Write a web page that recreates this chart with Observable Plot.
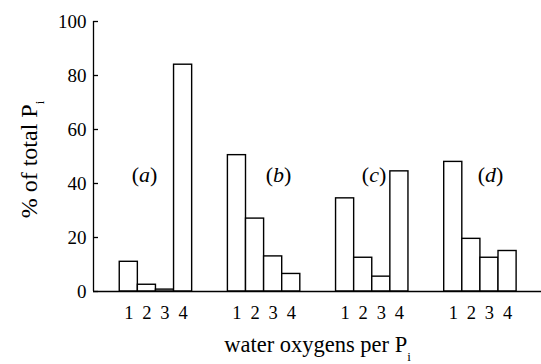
<!DOCTYPE html>
<html>
<head>
<meta charset="utf-8">
<script src="https://cdn.jsdelivr.net/npm/d3@7"></script>
<script src="https://cdn.jsdelivr.net/npm/@observablehq/plot@0.6"></script>
<style>
  html, body { margin: 0; padding: 0; background: #ffffff; }
  svg text { font-family: "Liberation Serif", "Times New Roman", serif; }
</style>
</head>
<body>
<div id="chart"></div>
<script>
// ---- data ----
const groups = ["a", "b", "c", "d"];
const waterOxygens = [1, 2, 3, 4];
const valuesA = [11, 2.5, 0.7, 84];
const valuesB = [50.5, 27, 13, 6.5];
const valuesC = [34.5, 12.5, 5.5, 44.5];
const valuesD = [48, 19.5, 12.5, 15];
const yTicks = [0, 20, 40, 60, 80, 100];
const xTitle = "water oxygens per P";
const yTitle = "% of total P";
const subscript = "i";

// ---- layout (in bar-width units along x) ----
const lead = 1.45;        // space between y axis and first group
const groupStep = 5.975;  // distance from one group start to the next
const xExtent = 24.75;    // total frame width
const labelOffset = {a: 1.37, b: 2.8, c: 2.1, d: 2.56};
const labelLevel = 43;

const series = [valuesA, valuesB, valuesC, valuesD];
const data = groups.flatMap((g, i) =>
  waterOxygens.map((n, j) => ({group: g, n, value: series[i][j], slot: lead + i * groupStep + j}))
);
const labels = groups.map((g, i) => ({group: g, pos: lead + i * groupStep + labelOffset[g]}));

const serif = "Liberation Serif";

const chart = Plot.plot({
  width: 541,
  height: 364,
  marginLeft: 93,
  marginRight: 0,
  marginTop: 21,
  marginBottom: 73,
  x: {domain: [0, xExtent], axis: null},
  y: {domain: [0, 100], axis: null},
  marks: [
    Plot.rectY(data, {x1: "slot", x2: d => d.slot + 1, y1: 0, y2: "value", fill: "white", stroke: "black", strokeWidth: 1.4}),
    Plot.ruleY([0], {stroke: "black", strokeWidth: 1.4}),
    Plot.ruleX([0], {y1: 0, y2: 100, stroke: "black", strokeWidth: 1.3}),
    Plot.axisY({ticks: yTicks, tickSize: 5, dx: 5, text: null, strokeWidth: 1.3, label: null}),
    Plot.axisY({ticks: yTicks, tickSize: 0, tickPadding: 7, label: null, fontFamily: serif, fontSize: 19}),
    Plot.text(data, {x: d => d.slot + 0.5, y: 0, text: "n", lineAnchor: "top", dy: 14, fontFamily: serif, fontSize: 18.5}),
    Plot.text(labels, {x: "pos", y: () => labelLevel, text: d => `(${d.group})`, fontFamily: serif, fontSize: 22}),
    Plot.text([xTitle], {frameAnchor: "bottom", textAnchor: "middle", lineAnchor: "bottom", dy: 60, fontFamily: serif, fontSize: 22.5}),
    Plot.text([yTitle], {frameAnchor: "left", textAnchor: "middle", rotate: -90, lineAnchor: "bottom", dx: -57, dy: 3, fontFamily: serif, fontSize: 24})
  ]
});

document.getElementById("chart").appendChild(chart);

// subscripts and italic panel letters
const svg = d3.select(chart).style("font-family", serif).style("background", "white");
svg.selectAll("text").filter(function () {
  return this.textContent === xTitle;
}).each(function () {
  d3.select(this).append("tspan").attr("dy", 9).attr("font-size", 13).text(subscript);
});
svg.selectAll("text").filter(function () {
  return this.textContent === yTitle;
}).each(function () {
  d3.select(this).append("tspan").attr("dy", 7).attr("font-size", 13).text(subscript);
});
svg.selectAll("text").filter(function () {
  return /^\([a-d]\)$/.test(this.textContent);
}).each(function () {
  const letter = this.textContent.slice(1, 2);
  const t = d3.select(this);
  t.text(null);
  t.append("tspan").text("(");
  t.append("tspan").attr("font-style", "italic").text(letter);
  t.append("tspan").text(")");
});
</script>
</body>
</html>
